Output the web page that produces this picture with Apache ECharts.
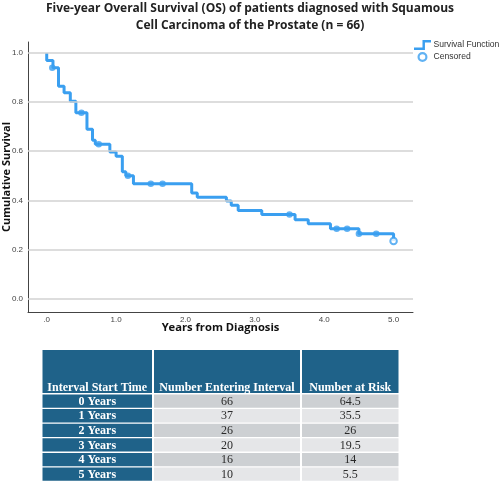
<!DOCTYPE html>
<html>
<head>
<meta charset="utf-8">
<script src="https://cdn.jsdelivr.net/npm/echarts@6/dist/echarts.min.js"></script>
<style>
html,body{margin:0;padding:0;background:#fff;}
#chart{width:500px;height:483px;}
</style>
</head>
<body>
<div id="chart"></div>
<script>
// ---- Kaplan-Meier step curve (time in years, cumulative survival after each step) ----
const stepTimes = [0, 0, 0.09, 0.17, 0.25, 0.34, 0.42, 0.58, 0.66, 0.70, 0.91, 1.0, 1.09, 1.14, 1.25, 2.09, 2.17, 2.59, 2.66, 2.76, 3.10, 3.58, 3.77, 4.09, 4.5, 5.0];
const stepSurv  = [1.0, 0.97, 0.94, 0.865, 0.838, 0.804, 0.757, 0.69, 0.645, 0.628, 0.597, 0.58, 0.516, 0.50, 0.468, 0.43, 0.413, 0.397, 0.38, 0.359, 0.342, 0.321, 0.305, 0.284, 0.264, 0.234];

// ---- Censored observations ----
const censorTimes = [0.08, 0.50, 0.75, 1.17, 1.5, 1.67, 3.5, 4.18, 4.33, 4.5, 4.75, 5.0];
const censorSurv  = [0.94, 0.757, 0.628, 0.50, 0.468, 0.468, 0.342, 0.284, 0.284, 0.264, 0.264, 0.234];

// ---- Axis ticks ----
const xTickValues = [0, 1, 2, 3, 4, 5];
const yTickValues = [0, 0.2, 0.4, 0.6, 0.8, 1.0];

// ---- Life table ----
const tableHeaders = ['Interval Start Time', 'Number Entering Interval', 'Number at Risk'];
const intervalLabels = ['0 Years', '1 Years', '2 Years', '3 Years', '4 Years', '5 Years'];
const numberEntering = ['66', '37', '26', '20', '16', '10'];
const numberAtRisk = ['64.5', '35.5', '26', '19.5', '14', '5.5'];

const BLUE = '#3a9ff0';
const chart = echarts.init(document.getElementById('chart'), null, {renderer: 'canvas'});

// table graphics
const colX = [[42.5, 152], [154, 300], [302, 398.5]];
const headTop = 350, headBottom = 393;
const rowTop0 = 394.5, rowStep = 14.6, rowH = 13.3;
const HEAD = '#1f6289';
const graphics = [];
tableHeaders.forEach((h, c) => {
  graphics.push({type: 'rect', shape: {x: colX[c][0], y: headTop, width: colX[c][1] - colX[c][0], height: headBottom - headTop}, style: {fill: HEAD}, silent: true});
  graphics.push({type: 'text', x: (colX[c][0] + colX[c][1]) / 2, y: 388, style: {text: h, fill: '#fff', font: 'bold 12px "Liberation Serif"', align: 'center', verticalAlign: 'middle'}, silent: true});
});
intervalLabels.forEach((lab, r) => {
  const y = rowTop0 + r * rowStep;
  const grey = r % 2 === 0 ? '#cdd0d3' : '#e5e6e8';
  const cells = [lab, numberEntering[r], numberAtRisk[r]];
  cells.forEach((txt, c) => {
    graphics.push({type: 'rect', shape: {x: colX[c][0], y: y, width: colX[c][1] - colX[c][0], height: rowH}, style: {fill: c === 0 ? HEAD : grey}, silent: true});
    graphics.push({type: 'text', x: (colX[c][0] + colX[c][1]) / 2, y: y + rowH / 2 + 0.5, style: {text: txt, fill: c === 0 ? '#fff' : '#2a2a2a', font: (c === 0 ? 'bold ' : '') + '12px "Liberation Serif"', align: 'center', verticalAlign: 'middle'}, silent: true});
  });
});

const stepIcon = 'path://M0,8 L9,8 L9,0 L18,0 L18,2.6 L11.6,2.6 L11.6,10.6 L0,10.6 Z';
const ringIcon = 'path://M0,5 A5,5 0 1,0 10,5 A5,5 0 1,0 0,5 Z M2.2,5 A2.8,2.8 0 1,1 7.8,5 A2.8,2.8 0 1,1 2.2,5 Z';

const option = {
  animation: false,
  backgroundColor: '#fff',
  title: {
    text: 'Five-year Overall Survival (OS) of patients diagnosed with Squamous\nCell Carcinoma of the Prostate (n = 66)',
    left: 245, top: -5, textAlign: 'center',
    textStyle: {fontFamily: 'Open Sans', fontWeight: 'bold', fontSize: 12, lineHeight: 17, color: '#222'}
  },
  legend: {
    orient: 'vertical', left: 414, top: 40, padding: 0, itemGap: 2,
    itemWidth: 18, itemHeight: 10, symbolKeepAspect: true,
    textStyle: {fontFamily: 'Liberation Sans', fontSize: 8.6, color: '#333', padding: [0, 0, 0, -3]},
    data: [
      {name: 'Survival Function', icon: stepIcon, itemStyle: {color: BLUE}},
      {name: 'Censored', icon: ringIcon, itemStyle: {color: BLUE}}
    ]
  },
  grid: {left: 28, right: 87, top: 42, bottom: 171, containLabel: false, outerBoundsMode: 'none'},
  xAxis: {
    type: 'value', min: -0.27, max: 5.28,
    name: 'Years from Diagnosis', nameLocation: 'middle', nameGap: 10, nameMoveOverlap: false,
    nameTextStyle: {fontFamily: 'Open Sans', fontWeight: 'bold', fontSize: 11.2, color: '#111'},
    axisLine: {show: true, onZero: false, lineStyle: {color: '#444', width: 1}},
    axisTick: {show: false},
    splitLine: {show: false},
    axisLabel: {customValues: xTickValues, margin: 4, fontFamily: 'Liberation Sans', fontSize: 8, color: '#444',
      formatter: v => (v === 0 ? '.0' : v.toFixed(1))}
  },
  yAxis: {
    type: 'value', min: -0.055, max: 1.045,
    name: 'Cumulative Survival', nameLocation: 'middle', nameGap: 16, nameMoveOverlap: false,
    nameTextStyle: {fontFamily: 'Open Sans', fontWeight: 'bold', fontSize: 11, color: '#111'},
    axisLine: {show: true, onZero: false, lineStyle: {color: '#444', width: 1}},
    axisTick: {show: false},
    splitLine: {show: false},
    axisLabel: {customValues: yTickValues, margin: 5, fontFamily: 'Liberation Sans', fontSize: 8, color: '#444',
      formatter: v => v.toFixed(1)}
  },
  graphic: graphics,
  series: [
    {
      type: 'line', name: 'grid', data: [], silent: true, z: 1,
      markLine: {
        silent: true, symbol: 'none', label: {show: false},
        lineStyle: {color: '#d2d2d2', width: 1.5, type: 'solid'},
        data: yTickValues.map(v => ({yAxis: v}))
      }
    },
    {
      type: 'line', name: 'Survival Function', step: 'end', showSymbol: false, z: 3,
      lineStyle: {color: BLUE, width: 3},
      itemStyle: {color: BLUE},
      data: stepTimes.map((t, i) => [t, stepSurv[i]])
    },
    {
      type: 'scatter', name: 'Censored', symbol: 'circle', symbolSize: 6.5, z: 4,
      itemStyle: {color: BLUE},
      data: censorTimes.map((t, i) => (i === censorTimes.length - 1
        ? {value: [t, censorSurv[i]], itemStyle: {color: '#fff', borderColor: BLUE, borderWidth: 2}}
        : [t, censorSurv[i]]))
    }
  ]
};
chart.setOption(option);
</script>
</body>
</html>
